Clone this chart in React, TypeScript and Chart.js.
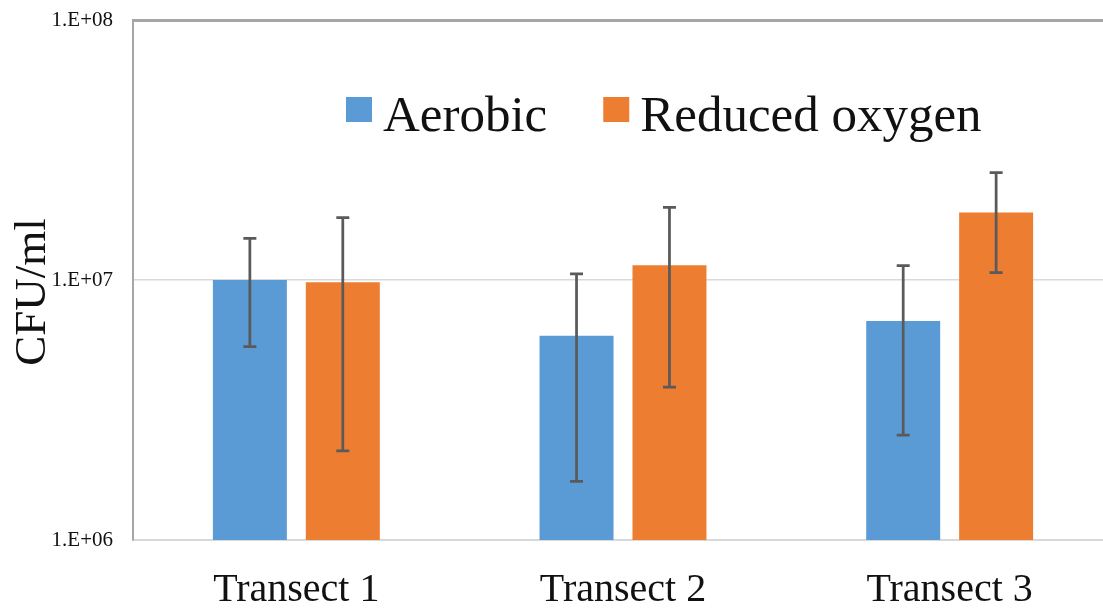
import { useEffect, useRef } from 'react';
import { Chart, registerables } from 'chart.js';

Chart.register(...registerables);

const categories = ['Transect 1', 'Transect 2', 'Transect 3'];
const seriesNames = ['Aerobic', 'Reduced oxygen'];
const seriesColors = ['#5B9BD5', '#ED7D31'];
const aerobic = [1.0e7, 6.1e6, 6.95e6];
const aerobicLow = [5.54e6, 1.68e6, 2.53e6];
const aerobicHigh = [1.447e7, 1.055e7, 1.135e7];
const reduced = [9.8e6, 1.14e7, 1.82e7];
const reducedLow = [2.2e6, 3.87e6, 1.067e7];
const reducedHigh = [1.736e7, 1.904e7, 2.586e7];
const yTicks = [1e6, 1e7, 1e8];
const yTitle = 'CFU/ml';

const SERIF = "'Liberation Serif', 'Times New Roman', serif";

const overlay = {
  id: 'overlay',
  afterDatasetsDraw(chart: any) {
    const ctx = chart.ctx;
    const ys = chart.scales.y;
    chart.data.datasets.forEach((ds: any, i: number) => {
      const meta = chart.getDatasetMeta(i);
      meta.data.forEach((bar: any, j: number) => {
        const x = bar.x;
        const yl = ys.getPixelForValue(ds.errLow[j]);
        const yh = ys.getPixelForValue(ds.errHigh[j]);
        ctx.save();
        ctx.strokeStyle = '#5a5a5a';
        ctx.lineWidth = 2.75;
        ctx.beginPath();
        ctx.moveTo(x, yl);
        ctx.lineTo(x, yh);
        ctx.moveTo(x - 6.5, yl);
        ctx.lineTo(x + 6.5, yl);
        ctx.moveTo(x - 6.5, yh);
        ctx.lineTo(x + 6.5, yh);
        ctx.stroke();
        ctx.restore();
      });
    });
  },
  afterDraw(chart: any) {
    const ctx = chart.ctx;
    ctx.save();
    // legend
    ctx.font = `51px ${SERIF}`;
    ctx.textBaseline = 'alphabetic';
    ctx.textAlign = 'left';
    let bx = 346;
    chart.data.datasets.forEach((ds: any) => {
      ctx.fillStyle = ds.backgroundColor;
      ctx.fillRect(bx, 97, 26, 25);
      ctx.fillStyle = '#111';
      const tx = bx + 37;
      ctx.fillText(ds.label, tx, 131);
      bx = tx + ctx.measureText(ds.label).width + 56;
    });
    // y title
    ctx.translate(45, 292);
    ctx.rotate(-Math.PI / 2);
    ctx.font = `45px ${SERIF}`;
    ctx.textAlign = 'center';
    ctx.fillStyle = '#111';
    ctx.fillText(yTitle, 0, 0);
    ctx.restore();
  },
};

export default function App() {
  const ref = useRef<HTMLCanvasElement>(null);
  useEffect(() => {
    if (!ref.current) return;
    const chart = new Chart(ref.current, {
      type: 'bar',
      data: {
        labels: categories,
        datasets: [
          {
            label: seriesNames[0],
            data: aerobic,
            backgroundColor: seriesColors[0],
            errLow: aerobicLow,
            errHigh: aerobicHigh,
            barPercentage: 0.796,
            categoryPercentage: 0.569,
          } as any,
          {
            label: seriesNames[1],
            data: reduced,
            backgroundColor: seriesColors[1],
            errLow: reducedLow,
            errHigh: reducedHigh,
            barPercentage: 0.796,
            categoryPercentage: 0.569,
          } as any,
        ],
      },
      options: {
        responsive: false,
        animation: false,
        layout: { padding: { top: 20, right: 1, left: 0, bottom: 0 } },
        plugins: { legend: { display: false }, tooltip: { enabled: false } },
        scales: {
          x: {
            offset: true,
            grid: { display: false, drawTicks: false },
            border: { display: true, color: '#d9d9d9', width: 2 },
            ticks: { font: { family: SERIF, size: 40 }, color: '#111', padding: 26 },
            afterFit: (s: any) => { s.height = 70; s.paddingLeft = 0; s.paddingRight = 0; },
          },
          y: {
            type: 'logarithmic',
            min: 1e6,
            max: 1e8,
            afterBuildTicks: (s: any) => { s.ticks = yTicks.map((v) => ({ value: v })); },
            afterFit: (s: any) => { s.width = 133; s.paddingTop = 0; s.paddingBottom = 0; },
            grid: {
              drawTicks: false,
              color: (c: any) => (c.tick && c.tick.value === 1e8 ? '#a6a6a6' : c.tick && c.tick.value === 1e7 ? '#d9d9d9' : 'rgba(0,0,0,0)'),
              lineWidth: (c: any) => (c.tick && c.tick.value === 1e8 ? 3 : 1.5),
            },
            border: { display: true, color: '#a6a6a6', width: 2 },
            ticks: {
              font: { family: SERIF, size: 21 },
              color: '#111',
              padding: 20,
              autoSkip: false,
              callback: (v: any) => '1.E+' + String(Math.round(Math.log10(Number(v)))).padStart(2, '0'),
            },
          },
        },
      } as any,
      plugins: [overlay],
    });
    return () => chart.destroy();
  }, []);
  return (
    <div style={{ position: 'absolute', left: 0, top: 0, width: 1103, height: 610, overflow: 'hidden', background: '#fff' }}>
      <canvas ref={ref} width={1114} height={610} style={{ display: 'block' }} />
    </div>
  );
}
